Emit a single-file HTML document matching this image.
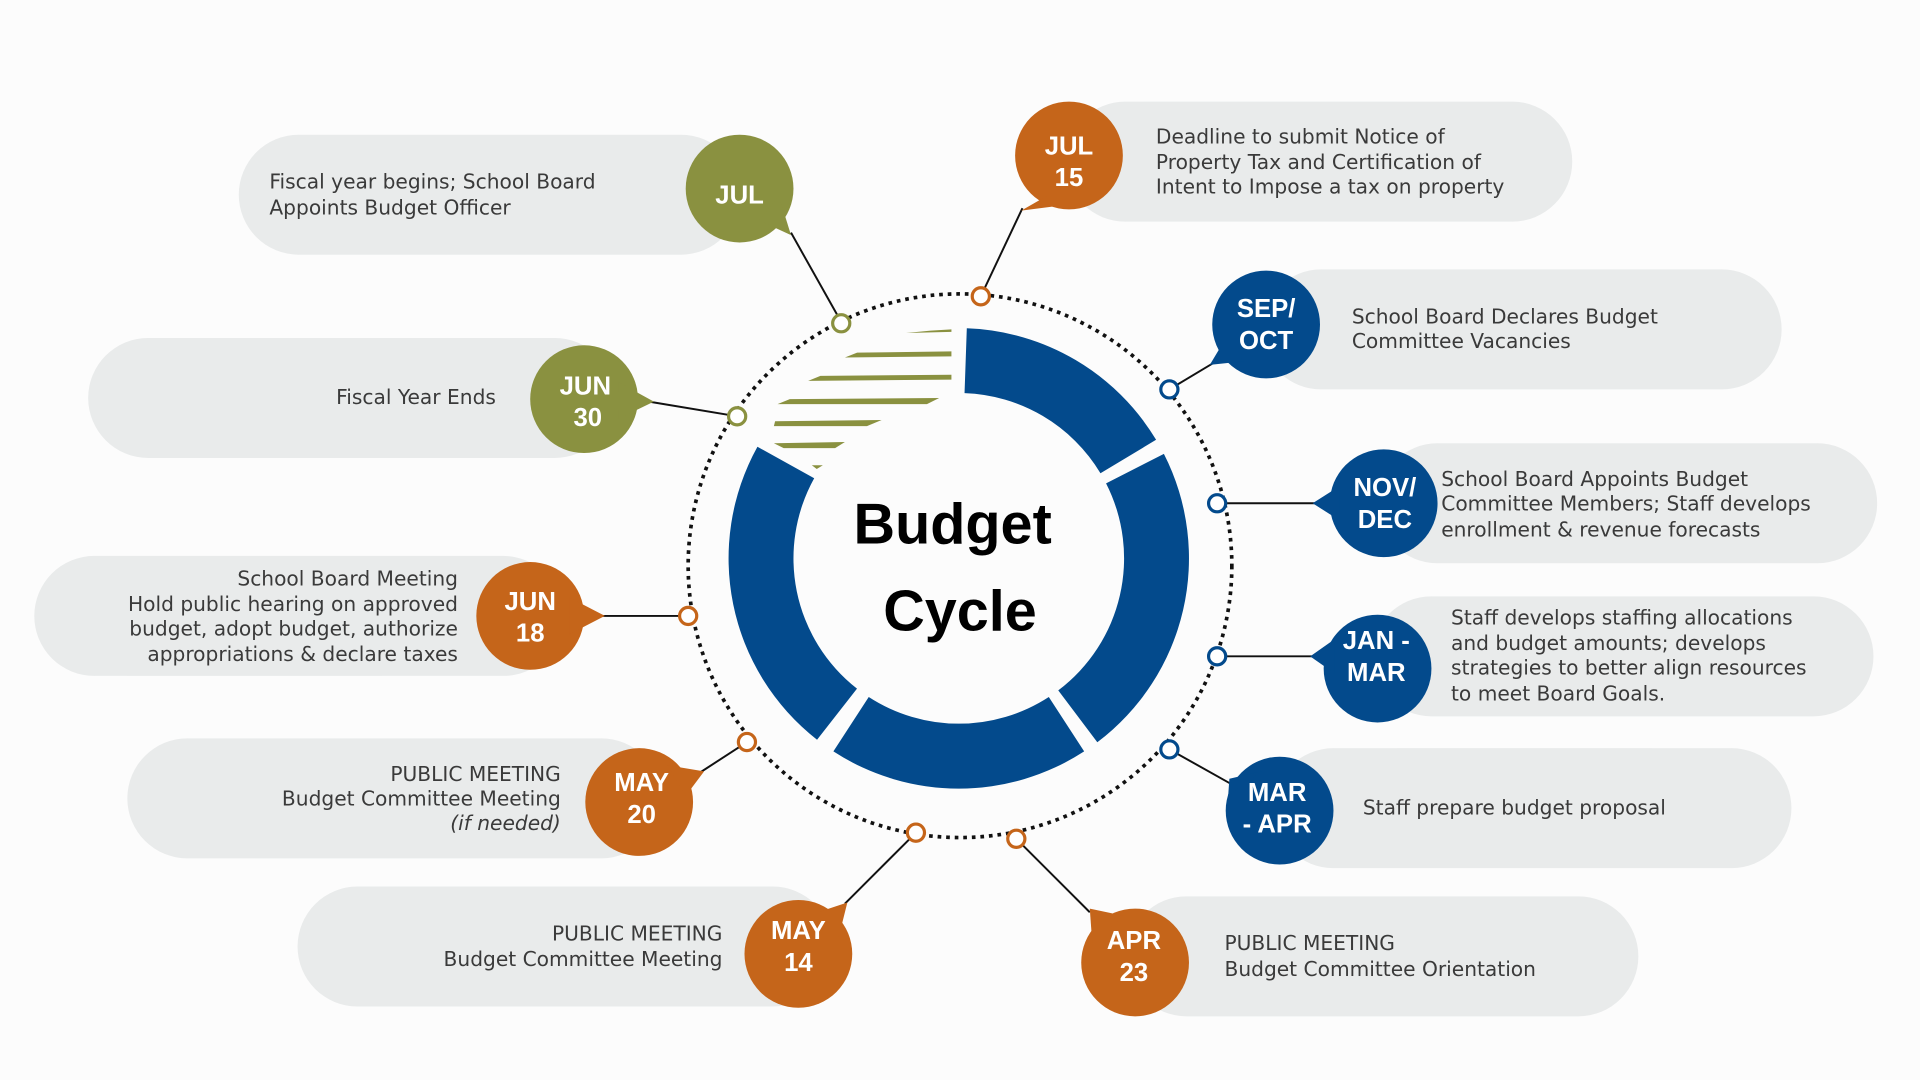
<!DOCTYPE html>
<html><head><meta charset="utf-8"><style>
html,body{margin:0;padding:0;background:#fcfcfc;}
svg{display:block}
.t{font-family:"DejaVu Sans","Liberation Sans",sans-serif;font-size:16.5px;fill:#3a3a3a}
.c{font-family:"Liberation Sans",sans-serif;font-size:21px;font-weight:bold;fill:#fff;text-anchor:middle}
.pill{fill:#e9ebeb}
.ln{stroke:#111;stroke-width:1.6}
.mk{fill:#fff;stroke-width:2.6}
</style></head><body>
<svg id="s" width="1920" height="1080" viewBox="0 0 1568 882">
<rect width="1568" height="882" fill="#fcfcfc"/>
<g id="ring"></g>
<g fill="#8a9140">
<polygon points="760,270 777,269 777,271 740,272"/>
<polygon points="700,288 777,287 777,291 690,292"/>
<polygon points="670,307 777,306 777,310 660,311"/>
<polygon points="645,326 767,325 757,330 635,330"/>
<polygon points="633,344 720,343 708,348 632,348"/>
<polygon points="632,362 690,361 682,366 640,366"/>
<polygon points="663,380 672,380 667,383"/>
</g>
<circle cx="784" cy="462" r="222" fill="none" stroke="#111" stroke-width="3" stroke-dasharray="3 4"/>
<text x="778" y="444" text-anchor="middle" font-family="Liberation Sans,sans-serif" font-weight="bold" font-size="47" fill="#000">Budget</text>
<text x="784" y="515" text-anchor="middle" font-family="Liberation Sans,sans-serif" font-weight="bold" font-size="47" fill="#000">Cycle</text>

<g class="ln">
<line x1="646" y1="190" x2="687" y2="263"/>
<line x1="530" y1="328" x2="602" y2="340"/>
<line x1="490" y1="503" x2="562" y2="503"/>
<line x1="570" y1="632" x2="610" y2="606"/>
<line x1="690" y1="738" x2="748" y2="680"/>
<line x1="890" y1="745" x2="830" y2="685"/>
<line x1="1005" y1="640" x2="955" y2="612"/>
<line x1="1075" y1="536" x2="994" y2="536"/>
<line x1="1080" y1="411" x2="994" y2="411"/>
<line x1="990" y1="297" x2="955" y2="318"/>
<line x1="835" y1="170" x2="801" y2="242"/>
</g>
<g>
<circle class="mk" cx="687" cy="264" r="7" stroke="#8a9140"/>
<circle class="mk" cx="602" cy="340" r="7" stroke="#8a9140"/>
<circle class="mk" cx="562" cy="503" r="7" stroke="#c5651a"/>
<circle class="mk" cx="610" cy="606" r="7" stroke="#c5651a"/>
<circle class="mk" cx="748" cy="680" r="7" stroke="#c5651a"/>
<circle class="mk" cx="830" cy="685" r="7" stroke="#c5651a"/>
<circle class="mk" cx="955" cy="612" r="7" stroke="#034a8c"/>
<circle class="mk" cx="994" cy="536" r="7" stroke="#034a8c"/>
<circle class="mk" cx="994" cy="411" r="7" stroke="#034a8c"/>
<circle class="mk" cx="955" cy="318" r="7" stroke="#034a8c"/>
<circle class="mk" cx="801" cy="242" r="7" stroke="#c5651a"/>
</g>

<rect class="pill" x="195" y="110" width="410" height="98" rx="49"/>
<rect class="pill" x="72" y="276" width="430" height="98" rx="49"/>
<rect class="pill" x="28" y="454" width="432" height="98" rx="49"/>
<rect class="pill" x="104" y="603" width="436" height="98" rx="49"/>
<rect class="pill" x="243" y="724" width="437" height="98" rx="49"/>
<rect class="pill" x="920" y="732" width="418" height="98" rx="49"/>
<rect class="pill" x="1040" y="611" width="423" height="98" rx="49"/>
<rect class="pill" x="1120" y="487" width="410" height="98" rx="49"/>
<rect class="pill" x="1125" y="362" width="408" height="98" rx="49"/>
<rect class="pill" x="1030" y="220" width="425" height="98" rx="49"/>
<rect class="pill" x="870" y="83" width="414" height="98" rx="49"/>

<g fill="#8a9140">
<circle cx="604" cy="154" r="44"/><polygon points="620,180 646,192 636,160"/>
<circle cx="477" cy="326" r="44"/><polygon points="505,312 534,328 505,342"/>
</g>
<g fill="#c5651a">
<circle cx="433" cy="503" r="44"/><polygon points="465,488 494,503 465,518"/>
<circle cx="522" cy="655" r="44"/><polygon points="545,625 575,630 560,650"/>
<circle cx="652" cy="779" r="44"/><polygon points="668,745 692,737 685,765"/>
<circle cx="927" cy="786" r="44"/><polygon points="892,770 890,742 918,748"/>
<circle cx="873" cy="127" r="44"/><polygon points="855,160 834,172 865,168"/>
</g>
<g fill="#034a8c">
<circle cx="1045" cy="662" r="44"/><polygon points="1003,650 1004,636 1030,630"/>
<circle cx="1125" cy="546" r="44"/><polygon points="1090,522 1070,536 1090,550"/>
<circle cx="1130" cy="411" r="44"/><polygon points="1094,397 1072,411 1094,425"/>
<circle cx="1034" cy="265" r="44"/><polygon points="1000,278 988,298 1016,295"/>
</g>

<text class="c" x="604" y="166">JUL</text>
<text class="c" x="478" y="322">JUN</text><text class="c" x="480" y="348">30</text>
<text class="c" x="433" y="498">JUN</text><text class="c" x="433" y="524">18</text>
<text class="c" x="524" y="646">MAY</text><text class="c" x="524" y="672">20</text>
<text class="c" x="652" y="767">MAY</text><text class="c" x="652" y="793">14</text>
<text class="c" x="926" y="775">APR</text><text class="c" x="926" y="801">23</text>
<text class="c" x="1043" y="654">MAR</text><text class="c" x="1043" y="680">- APR</text>
<text class="c" x="1124" y="530">JAN -</text><text class="c" x="1124" y="556">MAR</text>
<text class="c" x="1131" y="405">NOV/</text><text class="c" x="1131" y="431">DEC</text>
<text class="c" x="1034" y="259">SEP/</text><text class="c" x="1034" y="285">OCT</text>
<text class="c" x="873" y="126">JUL</text><text class="c" x="873" y="152">15</text>

<text class="t" x="220" y="154">Fiscal year begins; School Board</text>
<text class="t" x="220" y="175">Appoints Budget Officer</text>
<text class="t" x="405" y="330" text-anchor="end">Fiscal Year Ends</text>
<g text-anchor="end">
<text class="t" x="374" y="478">School Board Meeting</text>
<text class="t" x="374" y="499">Hold public hearing on approved</text>
<text class="t" x="374" y="519">budget, adopt budget, authorize</text>
<text class="t" x="374" y="540">appropriations &amp; declare taxes</text>
<text class="t" x="458" y="638">PUBLIC MEETING</text>
<text class="t" x="458" y="658">Budget Committee Meeting</text>
<text class="t" x="458" y="678" font-style="italic">(if needed)</text>
<text class="t" x="590" y="768">PUBLIC MEETING</text>
<text class="t" x="590" y="789">Budget Committee Meeting</text>
</g>
<text class="t" x="1000" y="776">PUBLIC MEETING</text>
<text class="t" x="1000" y="797">Budget Committee Orientation</text>
<text class="t" x="1113" y="665">Staff prepare budget proposal</text>
<text class="t" x="1185" y="510">Staff develops staffing allocations</text>
<text class="t" x="1185" y="531">and budget amounts; develops</text>
<text class="t" x="1185" y="551">strategies to better align resources</text>
<text class="t" x="1185" y="572">to meet Board Goals.</text>
<text class="t" x="1177" y="397">School Board Appoints Budget</text>
<text class="t" x="1177" y="417">Committee Members; Staff develops</text>
<text class="t" x="1177" y="438">enrollment &amp; revenue forecasts</text>
<text class="t" x="1104" y="264">School Board Declares Budget</text>
<text class="t" x="1104" y="284">Committee Vacancies</text>
<text class="t" x="944" y="117">Deadline to submit Notice of</text>
<text class="t" x="944" y="138">Property Tax and Certification of</text>
<text class="t" x="944" y="158">Intent to Impose a tax on property</text>
</svg>
<script>
(function(){
var cx=783,cy=456,R=188,r=135,g=document.getElementById('ring'),ns='http://www.w3.org/2000/svg';
function p(rad,a){a=a*Math.PI/180;return [cx+rad*Math.sin(a),cy-rad*Math.cos(a)];}
[[2,59],[63,143],[147,213],[218,299]].forEach(function(s){
var a=p(R,s[0]),b=p(R,s[1]),c=p(r,s[1]),d=p(r,s[0]),l=(s[1]-s[0])>180?1:0;
var e=document.createElementNS(ns,'path');
e.setAttribute('d','M'+a+' A'+R+' '+R+' 0 '+l+' 1 '+b+' L'+c+' A'+r+' '+r+' 0 '+l+' 0 '+d+'Z');
e.setAttribute('fill','#034a8c');g.appendChild(e);});
})();
</script>
</body></html>
